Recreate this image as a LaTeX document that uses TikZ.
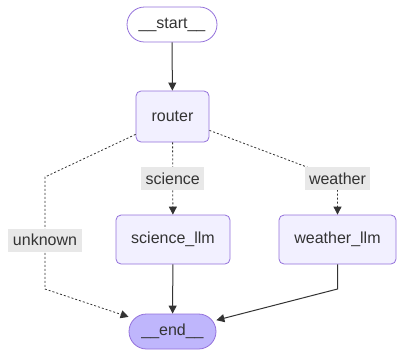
\documentclass[tikz,border=0pt]{standalone}
\usepackage{fontspec}
\setmainfont{Liberation Sans}
\usetikzlibrary{arrows.meta}
\definecolor{nodefill}{HTML}{F2F0FF}
\definecolor{nodestroke}{HTML}{9370DB}
\definecolor{endfill}{HTML}{BFB6FC}
\definecolor{edgecol}{HTML}{333333}
\definecolor{lblfill}{HTML}{E8E8E8}
\tikzset{
  box/.style={draw=nodestroke, line width=0.8pt, fill=nodefill, rounded corners=5pt,
    font=\fontsize{16pt}{19pt}\selectfont, text=edgecol, inner sep=0pt},
  pill/.style={draw=nodestroke, line width=0.8pt, rounded corners=17.5pt,
    minimum height=35pt, font=\fontsize{16pt}{19pt}\selectfont, text=edgecol, inner sep=0pt},
  lbl/.style={fill=lblfill, text=edgecol, font=\fontsize{16pt}{19pt}\selectfont,
    inner xsep=4.5pt, inner ysep=0pt, minimum height=23pt},
  solidedge/.style={draw=edgecol, line width=1pt, -{Triangle[length=8pt,width=8pt]}},
  dottededge/.style={draw=edgecol, line width=0.8pt, dash pattern=on 2pt off 2pt,
    -{Triangle[length=8pt,width=8pt]}}
}
\begin{document}
\begin{tikzpicture}[x=1pt,y=-1pt]
\useasboundingbox (0,0) rectangle (404,357);
\node[pill, fill=white, minimum width=90pt] (start) at (172,24.5) {\_\_start\_\_};
\node[box, minimum width=73pt, minimum height=51pt] (router) at (172.5,116.5) {router};
\node[box, minimum width=114pt, minimum height=49pt] (science) at (173,239.5) {science\_llm};
\node[box, minimum width=117pt, minimum height=49pt] (weather) at (337.5,239.5) {weather\_llm};
\node[pill, fill=endfill, minimum width=87pt] (end) at (172.5,331.5) {\_\_end\_\_};
\coordinate (wk) at (337.5,178.5);
\coordinate (uk1) at (45,177);
\coordinate (uk2) at (45,289);
\coordinate (uk) at (45,240);
\coordinate (wb) at (337.5,289);
\draw[solidedge] (start) -- (router);
\draw[dottededge] (router) -- node[lbl, solid] (sciencelbl) {science} (science);
\draw[dottededge] ([yshift=12pt]router.south east) -- (wk) -- (weather);
\node[lbl] (weatherlbl) at (wk) {weather};
\draw[dottededge] ([yshift=8pt]router.south west) -- (uk1) -- (uk2) -- (end);
\node[lbl] (unknownlbl) at (uk) {unknown};
\draw[solidedge] (science) -- (end);
\draw[solidedge] (weather.south) -- (wb) -- (end);
\end{tikzpicture}
\end{document}
